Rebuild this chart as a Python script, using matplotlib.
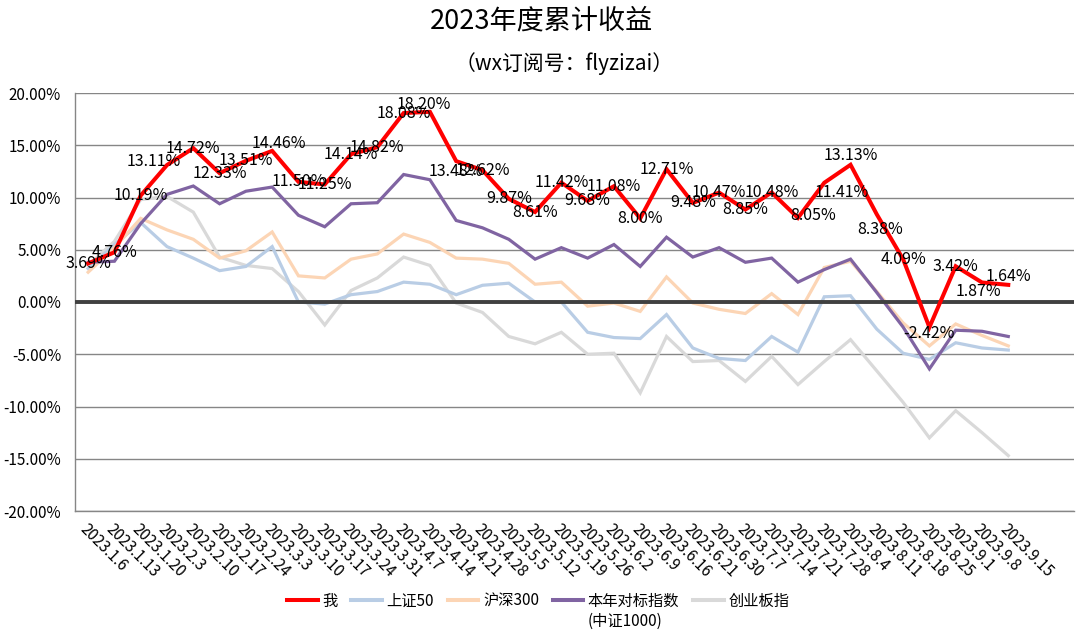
import matplotlib
matplotlib.use("Agg")
import matplotlib.pyplot as plt
from matplotlib.ticker import FuncFormatter, MultipleLocator

plt.rcParams['font.family'] = ['Noto Sans CJK SC', 'DejaVu Sans']

dates = ["2023.1.6", "2023.1.13", "2023.1.20", "2023.2.3", "2023.2.10", "2023.2.17",
         "2023.2.24", "2023.3.3", "2023.3.10", "2023.3.17", "2023.3.24", "2023.3.31",
         "2023.4.7", "2023.4.14", "2023.4.21", "2023.4.28", "2023.5.5", "2023.5.12",
         "2023.5.19", "2023.5.26", "2023.6.2", "2023.6.9", "2023.6.16", "2023.6.21",
         "2023.6.30", "2023.7.7", "2023.7.14", "2023.7.21", "2023.7.28", "2023.8.4",
         "2023.8.11", "2023.8.18", "2023.8.25", "2023.9.1", "2023.9.8", "2023.9.15"]

me = [3.69, 4.76, 10.19, 13.11, 14.72, 12.33, 13.51, 14.46, 11.50, 11.25, 14.14, 14.82,
      18.08, 18.20, 13.48, 12.62, 9.87, 8.61, 11.42, 9.68, 11.08, 8.00, 12.71, 9.48,
      10.47, 8.85, 10.48, 8.05, 11.41, 13.13, 8.38, 4.09, -2.42, 3.42, 1.87, 1.64]

sz50 = [3.2, 5.5, 7.6, 5.3, 4.2, 3.0, 3.4, 5.3, 0.0, -0.2, 0.7, 1.0,
        1.9, 1.7, 0.7, 1.6, 1.8, 0.0, 0.0, -2.9, -3.4, -3.5, -1.2, -4.4,
        -5.4, -5.6, -3.3, -4.8, 0.5, 0.6, -2.6, -4.9, -5.5, -3.9, -4.4, -4.6]

hs300 = [2.85, 5.2, 8.0, 6.9, 6.0, 4.2, 4.9, 6.7, 2.5, 2.3, 4.1, 4.6,
         6.5, 5.7, 4.2, 4.1, 3.7, 1.7, 1.9, -0.4, -0.1, -0.9, 2.4, -0.1,
         -0.7, -1.1, 0.8, -1.2, 3.3, 3.9, 1.0, -2.0, -4.2, -2.1, -3.2, -4.2]

zz1000 = [3.8, 3.9, 7.5, 10.3, 11.1, 9.4, 10.6, 11.0, 8.3, 7.2, 9.4, 9.5,
          12.2, 11.7, 7.8, 7.1, 6.0, 4.1, 5.2, 4.2, 5.5, 3.4, 6.2, 4.3,
          5.2, 3.8, 4.2, 1.9, 3.1, 4.1, 0.9, -2.4, -6.4, -2.7, -2.8, -3.3]

cyb = [3.5, 5.8, 9.8, 10.1, 8.6, 4.3, 3.5, 3.2, 1.0, -2.2, 1.1, 2.3,
       4.3, 3.5, -0.1, -1.0, -3.3, -4.0, -2.9, -5.0, -4.9, -8.7, -3.3, -5.7,
       -5.6, -7.6, -5.2, -7.9, -5.7, -3.6, -6.6, -9.6, -13.0, -10.4, -12.5, -14.7]

series_names = ["我", "上证50", "沪深300", "本年对标指数", "创业板指"]

# label nudges (pixels) for a few data labels, as in the reference
label_nudge = {3: (-13, 4), 7: (7, 7), 13: (-6, 7), 14: (0, -10), 27: (15, 2),
               28: (17, -10), 29: (0, 9), 30: (3, -15), 32: (0, -6), 34: (-4, -9),
               35: (0, 8)}

fig = plt.figure(figsize=(10.83, 6.39), dpi=100)
ax = fig.add_axes([75 / 1083, 1 - 511 / 639, 999 / 1083, 418 / 639])

x = list(range(len(dates)))
colors = ["#FF0000", "#B9CDE5", "#FCD5B5", "#8064A2", "#D9D9D9"]
widths = [2.9, 2.3, 2.3, 2.3, 2.3]
zorders = [6, 3, 4, 5, 2]
data = [me, sz50, hs300, zz1000, cyb]
handles = []
for vals, c, lw, z, name in zip(data, colors, widths, zorders, series_names):
    h, = ax.plot(x, vals, color=c, lw=lw, zorder=z, label=name, solid_joinstyle='miter')
    handles.append(h)

ax.axhline(0, color="#404040", lw=2.8, zorder=5)

ax.set_ylim(-20, 20)
ax.set_xlim(-0.5, 37.5)
ax.yaxis.set_major_locator(MultipleLocator(5))
ax.yaxis.set_major_formatter(FuncFormatter(lambda v, p: f"{v:.2f}%"))
ax.grid(axis='y', color="#868686", lw=1.0, zorder=0)
ax.set_axisbelow(True)
for s in ["top", "right"]:
    ax.spines[s].set_visible(False)
ax.spines["left"].set_color("#868686")
ax.spines["bottom"].set_color("#868686")
ax.spines["left"].set_linewidth(1.0)
ax.spines["bottom"].set_linewidth(1.0)
ax.tick_params(axis='y', length=0, labelsize=11, pad=10)
ax.tick_params(axis='x', length=0, labelsize=11, pad=7)
ax.set_xticks(x)
ax.set_xticklabels(dates, rotation=-45, ha='left', va='top', rotation_mode='anchor')

for i, v in enumerate(me):
    dx, dy = label_nudge.get(i, (0, 0))
    ax.annotate(f"{v:.2f}%", (i, v), xytext=(dx * 0.72, dy * 0.72), textcoords='offset points',
                ha='center', va='center', fontsize=11.5, color='black', zorder=10)

fig.text(0.5, 1 - 21 / 639, "2023年度累计收益", ha='center', va='center', fontsize=19.5)
fig.text(564 / 1083, 1 - 64 / 639, "（wx订阅号：flyzizai）", ha='center', va='center', fontsize=15)

leg = fig.legend(handles=handles, loc='center', bbox_to_anchor=(0.497, 1 - 601 / 639),
                 ncol=5, frameon=False, fontsize=11, handlelength=2.0,
                 handletextpad=0.3, columnspacing=0.9)
for lh in leg.get_lines():
    lh.set_linewidth(2.9)

fig.canvas.draw()
t = leg.get_texts()[3]
bb = t.get_window_extent()
fig.text(bb.x0 / fig.bbox.width, (bb.y0 - 3) / fig.bbox.height, "(中证1000)",
         ha='left', va='top', fontsize=11)

fig.savefig("out.png", dpi=100)
